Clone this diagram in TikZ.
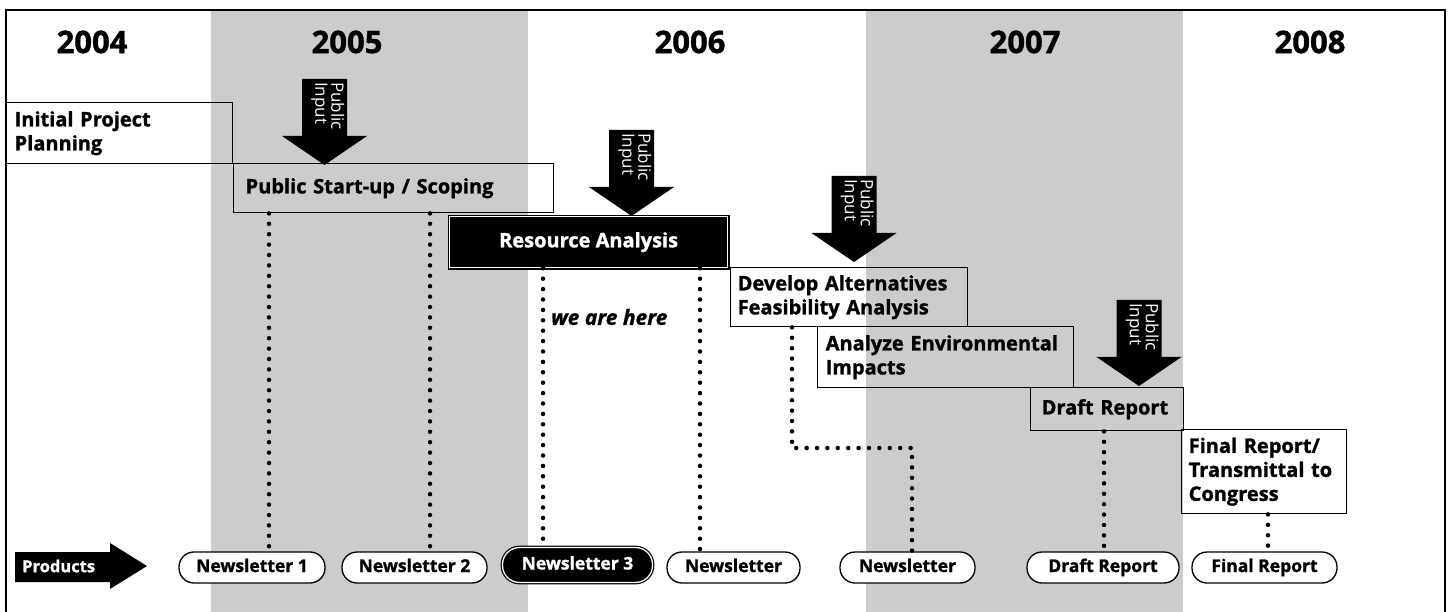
\documentclass[tikz,border=0pt]{standalone}
\usepackage{fontspec}
\setmainfont{Open Sans}[BoldFeatures={FakeBold=1.3},BoldItalicFeatures={FakeBold=1.3}]
\usetikzlibrary{calc}
\definecolor{band}{RGB}{204,204,204}
\tikzset{
  year/.style={font=\fontsize{31}{34}\selectfont\bfseries, inner sep=0pt},
  task/.style={draw=black, line width=1.4pt, anchor=north west, align=left,
    font=\fontsize{20}{24}\selectfont\bfseries, inner ysep=0pt},
  pill/.style={draw=black, fill=white, line width=1.3pt, rounded corners=15pt,
    minimum height=31pt, inner sep=0pt, text height=13pt, text depth=4pt,
    font=\fontsize{17.5}{20}\selectfont\bfseries},
  dots/.style={line width=4.5pt, dash pattern=on 0pt off 10.4pt, line cap=round},
  pubtext/.style={white, rotate=-90, anchor=north west, align=left, inner sep=0pt,
    font=\fontsize{17}{16}\selectfont},
}
\newcommand{\pubarrow}[3]{%
  \fill[black] (#1-22.5,#2) -- (#1+22.5,#2) -- (#1+22.5,#2+57) -- (#1+42.5,#2+57)
    -- (#1,#2+86) -- (#1-42.5,#2+57) -- (#1-22.5,#2+57) -- cycle;
  \node[pubtext] (#3) at (#1+20,#2+3) {Public\\Input};}
\begin{document}
\begin{tikzpicture}[x=1pt,y=-1pt]
\useasboundingbox (0,0) rectangle (1449,612);
% bands
\fill[band] (211,10) rectangle (528,614);
\fill[band] (866,10) rectangle (1183,614);
\draw[line width=2pt] (6,10) rectangle (1445,620);
% years
\node[year] (y04) at (92,42) {2004};
\node[year] (y05) at (347,42) {2005};
\node[year] (y06) at (690,42) {2006};
\node[year] (y07) at (1025,42) {2007};
\node[year] (y08) at (1310,42) {2008};
% public input arrows
\pubarrow{324.5}{79}{pi1}
\pubarrow{631.5}{130}{pi2}
\pubarrow{854}{176}{pi3}
\pubarrow{1139}{300}{pi4}
% task boxes
\node[task, text width=210pt, inner xsep=8pt, minimum height=61pt] (ipp) at (6,102) {Initial Project\\Planning};
\node[task, text width=296pt, inner xsep=12pt, minimum height=49pt] (psu) at (233,163) {Public Start-up / Scoping};
\node[task, fill=black, text=white, double=white, double distance=1.3pt, line width=1.3pt, align=center,
  minimum width=278pt, minimum height=51pt, inner sep=0pt] (ra) at (449,216) {Resource Analysis};
\node[task, text width=223pt, inner xsep=7pt, minimum height=59pt] (dev) at (730,267) {Develop Alternatives\\Feasibility Analysis};
\node[task, text width=240pt, inner xsep=8pt, minimum height=61pt] (ana) at (817,326) {Analyze Environmental\\Impacts};
\node[task, text width=131pt, inner xsep=11pt, minimum height=43pt] (dr) at (1030,387) {Draft Report};
\node[task, text width=151pt, inner xsep=7pt, minimum height=84pt] (fr) at (1181,429) {Final Report/\\Transmittal to\\Congress};
% we are here
\node[anchor=west, inner sep=0pt, font=\fontsize{21}{24}\selectfont\bfseries\itshape] (here) at (551,317) {we are here};
% products arrow
\fill[black] (15,552) -- (110,552) -- (110,543) -- (147,566) -- (110,589) -- (110,582) -- (15,582) -- cycle;
\node[anchor=west, white, inner sep=0pt, font=\fontsize{16.5}{19}\selectfont\bfseries] (prod) at (22,566) {Products};
% product pills
\node[pill, minimum width=146pt] (n1) at (252,567.5) {Newsletter 1};
\node[pill, minimum width=145pt] (n2) at (414.5,567.5) {Newsletter 2};
\node[pill, minimum width=150pt, minimum height=35pt, rounded corners=17pt, fill=black, text=white,
  double=white, double distance=1.3pt, line width=1.2pt] (n3) at (577.5,565) {Newsletter 3};
\node[pill, minimum width=133pt] (n4) at (733.5,567.5) {Newsletter};
\node[pill, minimum width=135pt] (n5) at (907.5,567.5) {Newsletter};
\node[pill, minimum width=152pt] (p6) at (1103,567.5) {Draft Report};
\node[pill, minimum width=145pt] (p7) at (1264.5,567.5) {Final Report};
% dotted links
\coordinate (x1) at (269,0);
\coordinate (x2) at (430,0);
\coordinate (x3) at (543,0);
\coordinate (x4) at (700,0);
\coordinate (c5a) at (792,448);
\coordinate (c5b) at (912,448);
\coordinate (x6) at (1104,0);
\coordinate (x7) at (1268,0);
\draw[dots] (psu.south -| x1) -- (n1.north -| x1);
\draw[dots] (psu.south -| x2) -- (n2.north -| x2);
\draw[dots] (ra.south -| x3) -- ([yshift=2pt]n3.north -| x3);
\draw[dots] (ra.south -| x4) -- (n4.north -| x4);
\draw[dots] (dev.south -| c5a) -- (c5a) -- (c5b) -- (n5.north -| c5b);
\draw[dots] (dr.south -| x6) -- (p6.north -| x6);
\draw[dots] (fr.south -| x7) -- (p7.north -| x7);
\end{tikzpicture}
\end{document}
